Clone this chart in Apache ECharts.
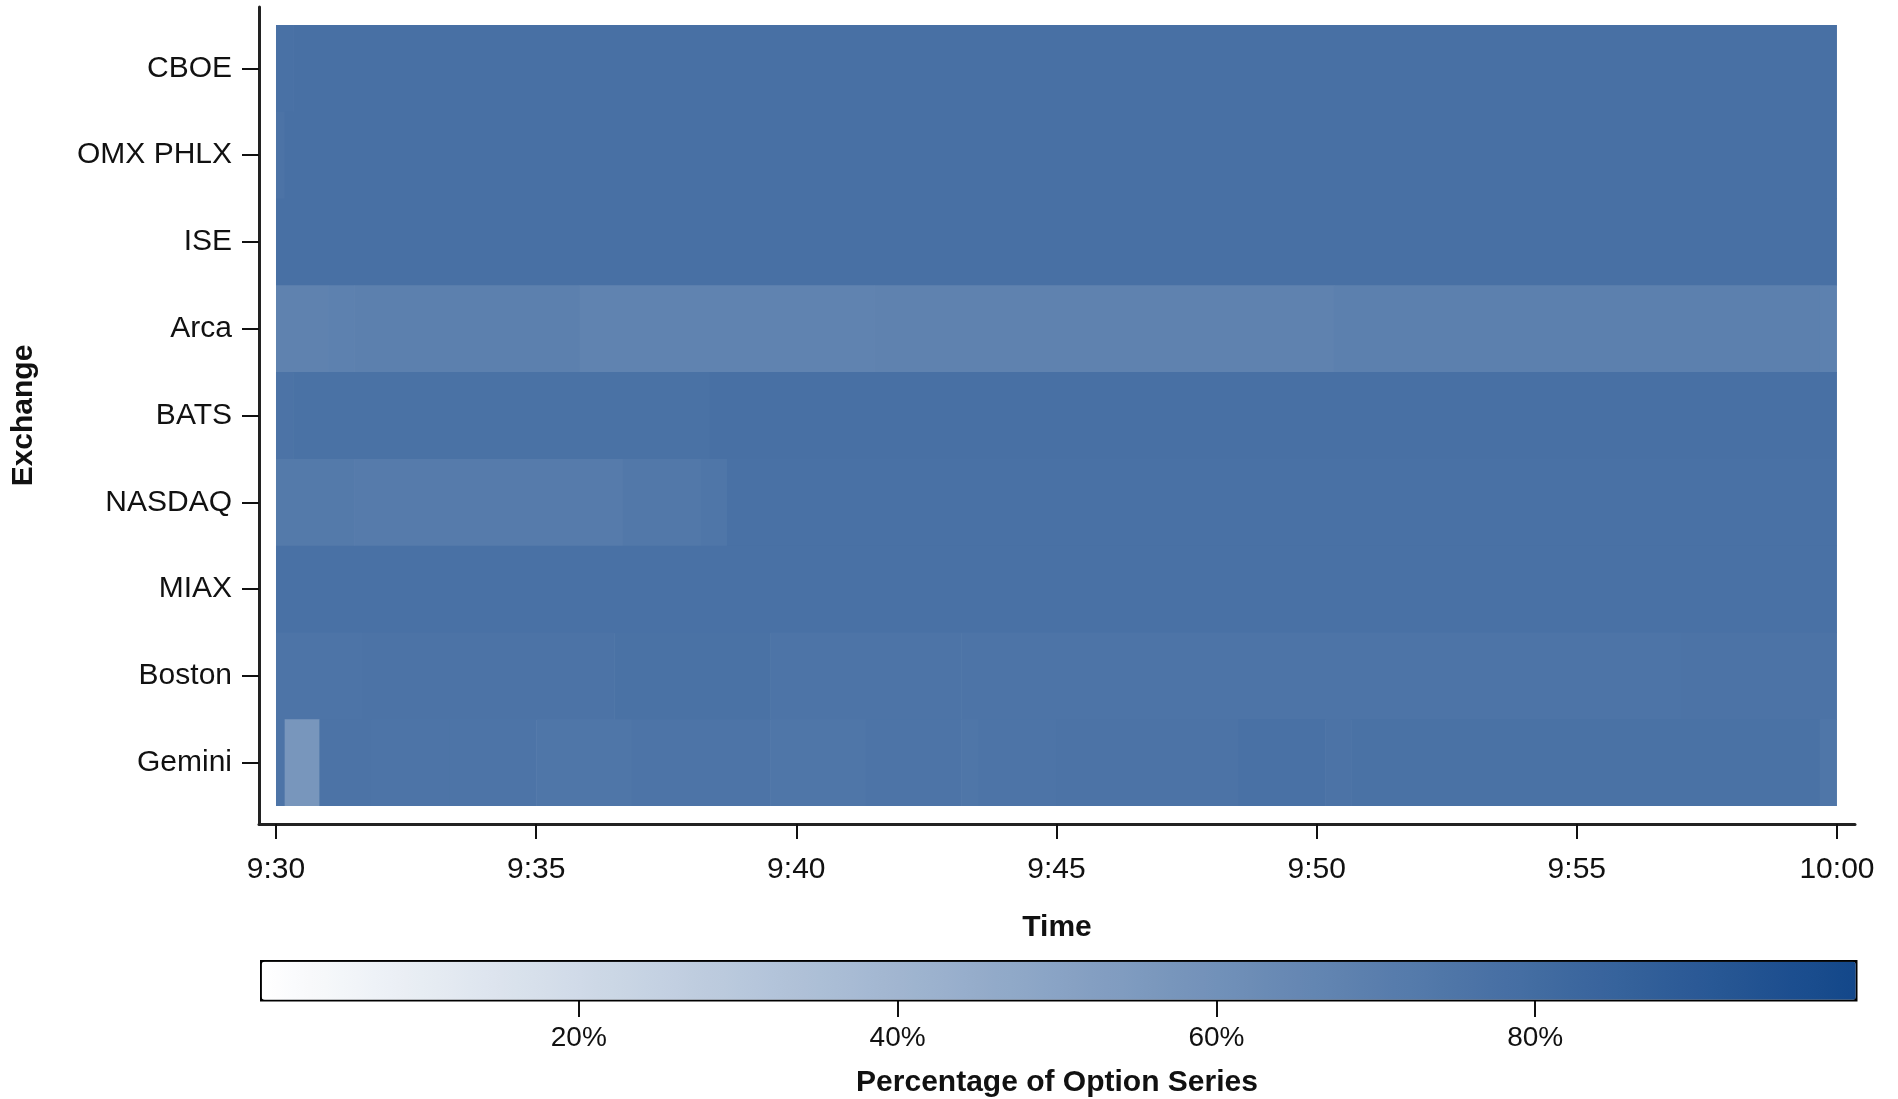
<!DOCTYPE html>
<html>
<head>
<meta charset="utf-8">
<script src="https://cdn.jsdelivr.net/npm/echarts@6/dist/echarts.min.js"></script>
<style>
html,body{margin:0;padding:0;background:#fff;}
#chart{width:1898px;height:1099px;}
</style>
</head>
<body>
<div id="chart"></div>
<script>
// Exchanges, top to bottom
const exchanges = ['CBOE','OMX PHLX','ISE','Arca','BATS','NASDAQ','MIAX','Boston','Gemini'];
// Time tick labels (every 5 minutes, in seconds after 9:30)
const timeTickSeconds = [0,300,600,900,1200,1500,1800];
const timeTickLabels = ['9:30','9:35','9:40','9:45','9:50','9:55','10:00'];
const pctTicks = [20,40,60,80];

// Runs per exchange: [startSecond, endSecond, percentage of option series]
const cboeRuns   = [[0,20,77.0],[20,1800,77.5]];
const phlxRuns   = [[0,10,76.0],[10,1800,77.5]];
const iseRuns    = [[0,1800,77.5]];
const arcaRuns   = [[0,60,68.0],[60,90,68.5],[90,350,69.0],[350,690,67.5],[690,1220,68.0],[1220,1780,69.0],[1780,1800,68.5]];
const batsRuns   = [[0,20,76.0],[20,500,76.5],[500,1800,77.5]];
const nasdaqRuns = [[0,90,72.5],[90,400,71.5],[400,490,73.5],[490,520,74.5],[520,1800,77.0]];
const miaxRuns   = [[0,1800,77.0]];
const bostonRuns = [[0,100,75.5],[100,390,76.0],[390,570,76.5],[570,790,75.5],[790,1620,75.5],[1620,1800,76.0]];
const geminiRuns = [[0,10,75.5],[10,50,57.0],[50,110,76.0],[110,200,75.5],[200,300,75.5],[300,410,74.5],[410,570,75.3],[570,680,74.5],[680,790,75.5],[790,810,74.5],[810,900,75.5],[900,1110,76.0],[1110,1210,77.0],[1210,1240,76.0],[1240,1780,76.5],[1780,1800,74.5]];

const allRuns = [cboeRuns, phlxRuns, iseRuns, arcaRuns, batsRuns, nasdaqRuns, miaxRuns, bostonRuns, geminiRuns];
const cells = [];
allRuns.forEach((runs, row) => runs.forEach(r => cells.push([row, r[0], r[1], r[2]])));

const FONT = 'Liberation Sans';
const chart = echarts.init(document.getElementById('chart'), null, {renderer: 'canvas'});

function renderItem(params, api) {
  const row = api.value(0);
  const p0 = api.coord([api.value(1), row - 0.5]);
  const p1 = api.coord([api.value(2), row + 0.5]);
  const x0 = Math.min(p0[0], p1[0]), x1 = Math.max(p0[0], p1[0]);
  const y0 = Math.min(p0[1], p1[1]), y1 = Math.max(p0[1], p1[1]);
  const lastRow = row === exchanges.length - 1;
  return {
    type: 'rect',
    shape: {x: x0, y: y0, width: x1 - x0 + (api.value(2) < 1800 ? 0.6 : 0), height: y1 - y0 + (lastRow ? 0 : 0.7)},
    style: {fill: api.visual('color')}
  };
}

const axisLineStyle = {color: '#222', width: 3};
chart.setOption({
  animation: false,
  backgroundColor: '#fff',
  textStyle: {fontFamily: FONT},
  grid: [
    {left: 259, right: 43, top: 7, bottom: 275},
    {left: 260, width: 1594, top: 959, height: 40}
  ],
  xAxis: [
    {
      type: 'value', gridIndex: 0, min: -19.6, max: 1820.8, position: 'bottom',
      axisLine: {show: true, onZero: false, lineStyle: axisLineStyle},
      axisTick: {show: true, length: 15, lineStyle: {color: '#111', width: 2}, customValues: timeTickSeconds},
      axisLabel: {customValues: timeTickSeconds, formatter: v => timeTickLabels[timeTickSeconds.indexOf(v)], fontSize: 30, color: '#111', margin: 31, fontFamily: FONT},
      splitLine: {show: false},
      name: 'Time', nameLocation: 'middle', nameGap: 89,
      nameTextStyle: {fontSize: 30, fontWeight: 'bold', color: '#111', fontFamily: FONT}
    },
    {
      type: 'value', gridIndex: 1, min: 0, max: 100, position: 'bottom',
      axisLine: {show: false, onZero: false},
      axisTick: {show: true, length: 22, lineStyle: {color: '#111', width: 2}, customValues: pctTicks},
      axisLabel: {customValues: pctTicks, formatter: '{value}%', fontSize: 28, color: '#111', margin: 29, fontFamily: FONT},
      splitLine: {show: false},
      name: 'Percentage of Option Series', nameLocation: 'middle', nameGap: 73,
      nameTextStyle: {fontSize: 30, fontWeight: 'bold', color: '#111', fontFamily: FONT}
    }
  ],
  yAxis: [
    {
      type: 'value', gridIndex: 0, min: -0.7074, max: 8.7074, inverse: true, position: 'left',
      axisLine: {show: true, onZero: false, lineStyle: axisLineStyle},
      axisTick: {show: true, length: 17, lineStyle: {color: '#111', width: 2}, customValues: [0,1,2,3,4,5,6,7,8]},
      axisLabel: {customValues: [0,1,2,3,4,5,6,7,8], formatter: v => exchanges[v], fontSize: 30, color: '#111', margin: 27, fontFamily: FONT},
      splitLine: {show: false},
      name: 'Exchange', nameLocation: 'middle', nameGap: 220, nameRotate: 90,
      nameTextStyle: {fontSize: 30, fontWeight: 'bold', color: '#111', fontFamily: FONT}
    },
    {type: 'value', gridIndex: 1, show: false, min: 0, max: 1}
  ],
  visualMap: {
    type: 'continuous', min: 0, max: 100, dimension: 3, seriesIndex: 0,
    orient: 'horizontal', left: 260, top: 960, itemWidth: 38, itemHeight: 1594,
    calculable: false, realtime: false, hoverLink: false, text: null, padding: 0,
    borderColor: '#000', borderWidth: 3.5,
    inRange: {color: ['#ffffff', '#13478a']}
  },
  series: [{
    type: 'custom', xAxisIndex: 0, yAxisIndex: 0,
    renderItem: renderItem,
    encode: {x: [1, 2], y: 0},
    data: cells,
    silent: true
  }]
});
</script>
</body>
</html>
